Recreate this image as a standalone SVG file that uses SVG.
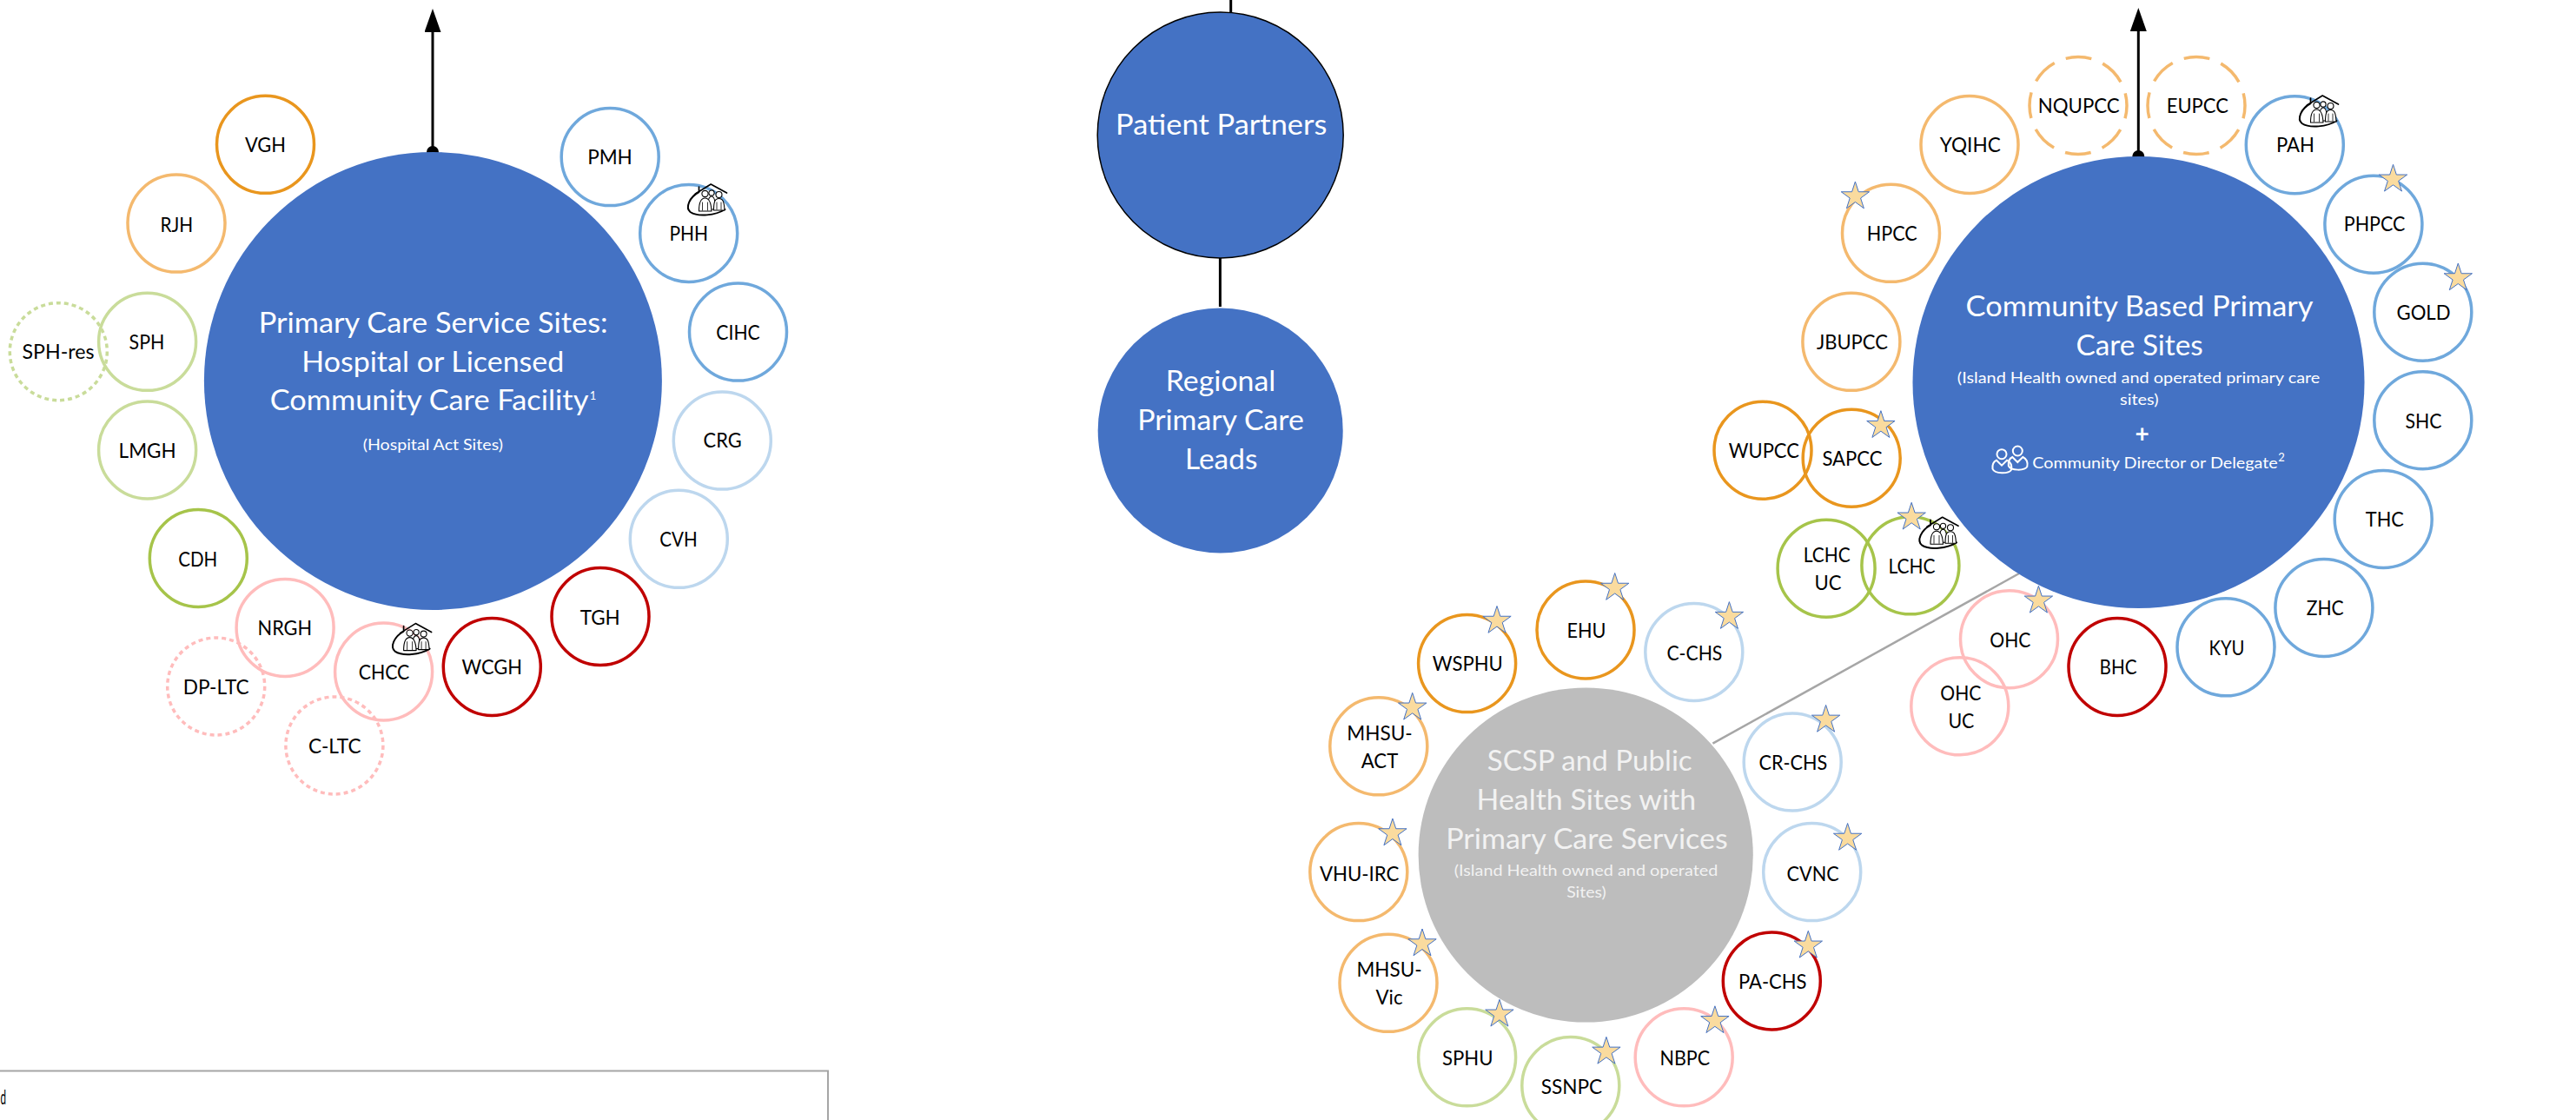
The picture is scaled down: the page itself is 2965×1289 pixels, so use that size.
<svg xmlns="http://www.w3.org/2000/svg" xmlns:xlink="http://www.w3.org/1999/xlink" width="2965" height="1289" viewBox="0 0 2965 1289">
<style>
text{font-family:"Lato","Carlito","Open Sans",sans-serif}
.n{fill:none;stroke-width:3.5}
.lb{font-size:23.5px;fill:#000;text-anchor:middle}
.w{fill:#fff;text-anchor:middle}
.big{font-size:32.5px}
.sm{font-size:17px}
.do{stroke-dasharray:5 4}
.da{stroke-dasharray:30 14;stroke-dashoffset:15}
.o1{stroke:#E9961E}.o2{stroke:#F4B96E}.b1{stroke:#6FA8DC}.b2{stroke:#BDD7EE}.g1{stroke:#A6C44A}.g2{stroke:#C9DC9A}.p{stroke:#FFBCBC}.r{stroke:#C00000}
.ln{stroke:#000;stroke-width:3;fill:none}
.gt{fill:#F2F2F2;text-anchor:middle}
</style>
<defs>
<marker id="ah" markerUnits="userSpaceOnUse" markerWidth="27" markerHeight="19" refX="0" refY="9.5" orient="auto" viewBox="0 0 27 19"><path d="M0 0L27 9.5L0 19Z" fill="#000"/></marker>
<polygon id="star" fill="#FADB9E" stroke="#4472C4" stroke-width="1" points="0,-17 3.82,-5.26 16.17,-5.25 6.18,2 9.99,13.75 0,6.5 -9.99,13.75 -6.18,2 -16.17,-5.25 -3.82,-5.26"/>
<g id="fam" stroke="#000" stroke-linejoin="round" stroke-linecap="round">
<path d="M11 12L28.7 1L47 11M15 9V4" fill="none" stroke-width="1.7"/>
<path d="M15 10C4 16-1 28 5 33C14 39 34 37 45 30" fill="none" stroke-width="2"/>
<g fill="#fff" stroke-width="1.1">
<circle cx="29.5" cy="11" r="3.1"/><path d="M25 30C25 21 26 15 29.5 15C33 15 34 21 34 30Z"/>
<circle cx="38" cy="13" r="3.5"/><path d="M32 31C32 22 33 17.5 38 17.5C43 17.5 44 22 44.5 31Z"/>
<circle cx="22" cy="12" r="3.6"/><path d="M15 32C15 22 17 17 22 17C27 17 29 22 29.5 32Z"/>
<path d="M19 22V31M25 22V31M35.5 22V30M40.5 22V30" fill="none" stroke-width=".8"/>
</g>
</g>
<g id="person" fill="none" stroke="#fff" stroke-width="2">
<circle cx="0" cy="0" r="5.5"/>
<path d="M-6 7C-10 9-11 13-10.5 17C-8 23 8 23 11 18C12 13 10 9 6 7L0 13Z"/>
</g>
</defs>

<g id="legend"><rect x="-10" y="1232.5" width="963" height="100" fill="#fff" stroke="#A6A6A6" stroke-width="2"/><text x="0.5" y="1271" font-size="24" textLength="6.5" lengthAdjust="spacingAndGlyphs" fill="#000">d</text></g>

<g id="connectors">
<line class="ln" x1="498" y1="175" x2="498" y2="37" marker-end="url(#ah)"/><circle cx="498" cy="175" r="7" fill="#000"/>
<line class="ln" x1="2461.3" y1="180" x2="2461.3" y2="36" marker-end="url(#ah)"/><circle cx="2461.3" cy="180" r="7" fill="#000"/>
<line class="ln" x1="1416.7" y1="0" x2="1416.7" y2="15"/>
<line class="ln" x1="1404.4" y1="297" x2="1404.4" y2="353"/>
<line x1="1971.4" y1="855.6" x2="2324" y2="660" stroke="#A6A6A6" stroke-width="2.5"/>
</g>

<g id="hub-hospital"><circle cx="498.4" cy="438.5" r="263.5" fill="#4472C4"/>
<text class="w big" x="498.7" y="382.6" textLength="402" lengthAdjust="spacingAndGlyphs">Primary Care Service Sites:</text>
<text class="w big" x="498.3" y="427.7" textLength="302" lengthAdjust="spacingAndGlyphs">Hospital or Licensed</text>
<text class="w big" x="494" y="472.3" textLength="366.7" lengthAdjust="spacingAndGlyphs">Community Care Facility</text>
<text class="w" x="682.5" y="460" font-size="13">1</text>
<text class="w sm" x="498.3" y="517.9" textLength="161.3" lengthAdjust="spacingAndGlyphs">(Hospital Act Sites)</text></g>

<g id="hub-patient"><circle cx="1404.7" cy="155.5" r="141.5" fill="#4472C4" stroke="#000" stroke-width="1.5"/>
<text class="w big" x="1405.7" y="154.9" textLength="243.3" lengthAdjust="spacingAndGlyphs">Patient Partners</text></g>

<g id="hub-regional"><circle cx="1404.7" cy="495.5" r="141" fill="#4472C4"/>
<text class="w big" x="1405" y="450.3" textLength="126.7" lengthAdjust="spacingAndGlyphs">Regional</text>
<text class="w big" x="1405" y="494.5" textLength="191.7" lengthAdjust="spacingAndGlyphs">Primary Care</text>
<text class="w big" x="1405.7" y="539.6" textLength="83.3" lengthAdjust="spacingAndGlyphs">Leads</text></g>

<g id="hub-community"><circle cx="2461.5" cy="440" r="260" fill="#4472C4"/>
<text class="w big" x="2462.6" y="364.3" textLength="400" lengthAdjust="spacingAndGlyphs">Community Based Primary</text>
<text class="w big" x="2462.6" y="409" textLength="146.3" lengthAdjust="spacingAndGlyphs">Care Sites</text>
<text class="w sm" x="2461.6" y="441" textLength="417.5" lengthAdjust="spacingAndGlyphs">(Island Health owned and operated primary care</text>
<text class="w sm" x="2462.3" y="466" textLength="44.6" lengthAdjust="spacingAndGlyphs">sites)</text>
<text class="w" x="2465.7" y="509" font-size="28" font-weight="700">+</text>
<use xlink:href="#person" href="#person" x="2304" y="522.7"/><use xlink:href="#person" href="#person" x="2322.3" y="519"/>
<text class="w sm" x="2480.5" y="539.3" textLength="282.4" lengthAdjust="spacingAndGlyphs">Community Director or Delegate</text>
<text class="w" x="2626" y="531" font-size="13">2</text></g>

<g id="hub-scsp"><circle cx="1825.2" cy="984" r="192.6" fill="#BDBDBD"/>
<text class="gt big" x="1829.7" y="886.7" textLength="236" lengthAdjust="spacingAndGlyphs">SCSP and Public</text>
<text class="gt big" x="1825.9" y="931.8" textLength="252.6" lengthAdjust="spacingAndGlyphs">Health Sites with</text>
<text class="gt big" x="1826.5" y="977" textLength="324.5" lengthAdjust="spacingAndGlyphs">Primary Care Services</text>
<text class="gt sm" x="1825.5" y="1007.5" textLength="303.5" lengthAdjust="spacingAndGlyphs">(Island Health owned and operated</text>
<text class="gt sm" x="1825.9" y="1033" textLength="45.5" lengthAdjust="spacingAndGlyphs">Sites)</text>
</g>

<g id="VGH"><circle class="n o1" cx="305.5" cy="166.3" r="56"/><text class="lb" x="305.5" y="175" textLength="47" lengthAdjust="spacingAndGlyphs">VGH</text></g>
<g id="RJH"><circle class="n o2" cx="203" cy="257.1" r="56"/><text class="lb" x="203.4" y="266.5" textLength="37.6" lengthAdjust="spacingAndGlyphs">RJH</text></g>
<g id="SPH"><circle class="n g2" cx="169.6" cy="393.3" r="56"/><text class="lb" x="169" y="401.8" textLength="40.8" lengthAdjust="spacingAndGlyphs">SPH</text></g>
<g id="SPH-res"><circle class="n g2 do" cx="67.3" cy="404.7" r="56"/><text class="lb" x="67" y="413" textLength="83" lengthAdjust="spacingAndGlyphs">SPH-res</text></g>
<g id="LMGH"><circle class="n g2" cx="169.6" cy="517.9" r="56"/><text class="lb" x="169.6" y="526.8" textLength="66" lengthAdjust="spacingAndGlyphs">LMGH</text></g>
<g id="CDH"><circle class="n g1" cx="228.3" cy="642.5" r="56"/><text class="lb" x="227.7" y="652" textLength="45" lengthAdjust="spacingAndGlyphs">CDH</text></g>
<g id="PMH"><circle class="n b1" cx="702.2" cy="180.6" r="56"/><text class="lb" x="702" y="188.8" textLength="51.7" lengthAdjust="spacingAndGlyphs">PMH</text></g>
<g id="PHH"><circle class="n b1" cx="792.7" cy="268.5" r="56"/><text class="lb" x="792.7" y="276.8" textLength="44.6" lengthAdjust="spacingAndGlyphs">PHH</text><use xlink:href="#fam" href="#fam" x="789.5" y="211"/></g>
<g id="CIHC"><circle class="n b1" cx="849.5" cy="382.1" r="56"/><text class="lb" x="849.5" y="391" textLength="50.4" lengthAdjust="spacingAndGlyphs">CIHC</text></g>
<g id="CRG"><circle class="n b2" cx="831.3" cy="507.1" r="56"/><text class="lb" x="831.6" y="515" textLength="44" lengthAdjust="spacingAndGlyphs">CRG</text></g>
<g id="CVH"><circle class="n b2" cx="781.3" cy="620.3" r="56"/><text class="lb" x="781" y="628.6" textLength="43.4" lengthAdjust="spacingAndGlyphs">CVH</text></g>
<g id="TGH"><circle class="n r" cx="691" cy="709.5" r="56"/><text class="lb" x="690.7" y="718.6" textLength="46" lengthAdjust="spacingAndGlyphs">TGH</text></g>
<g id="WCGH"><circle class="n r" cx="566.3" cy="767.5" r="56"/><text class="lb" x="566.3" y="775.8" textLength="69.5" lengthAdjust="spacingAndGlyphs">WCGH</text></g>
<g id="CHCC"><circle class="n p" cx="441.6" cy="773" r="56"/><text class="lb" x="442" y="782" textLength="58.7" lengthAdjust="spacingAndGlyphs">CHCC</text><use xlink:href="#fam" href="#fam" x="449.6" y="716.6"/></g>
<g id="NRGH"><circle class="n p" cx="328.1" cy="722.4" r="56"/><text class="lb" x="327.8" y="731" textLength="62.5" lengthAdjust="spacingAndGlyphs">NRGH</text></g>
<g id="DP-LTC"><circle class="n p do" cx="248.7" cy="790" r="56"/><text class="lb" x="248.7" y="799" textLength="75.9" lengthAdjust="spacingAndGlyphs">DP-LTC</text></g>
<g id="C-LTC"><circle class="n p do" cx="384.9" cy="858" r="56"/><text class="lb" x="385.2" y="866.8" textLength="60.6" lengthAdjust="spacingAndGlyphs">C-LTC</text></g>

<g id="YQIHC"><circle class="n o2" cx="2267" cy="166.5" r="56"/><text class="lb" x="2267.8" y="175" textLength="70" lengthAdjust="spacingAndGlyphs">YQIHC</text></g>
<g id="NQUPCC"><circle class="n o2 da" cx="2392" cy="121.5" r="56"/><text class="lb" x="2392.7" y="130" textLength="93.9" lengthAdjust="spacingAndGlyphs">NQUPCC</text></g>
<g id="EUPCC"><circle class="n o2 da" cx="2528" cy="121.5" r="56"/><text class="lb" x="2529.3" y="130" textLength="71" lengthAdjust="spacingAndGlyphs">EUPCC</text></g>
<g id="PAH"><circle class="n b1" cx="2641.3" cy="166.7" r="56"/><text class="lb" x="2641.9" y="175" textLength="44" lengthAdjust="spacingAndGlyphs">PAH</text><use xlink:href="#fam" href="#fam" x="2644.5" y="109"/></g>
<g id="HPCC"><circle class="n o2" cx="2176.5" cy="268.3" r="56"/><text class="lb" x="2177.8" y="276.7" textLength="58" lengthAdjust="spacingAndGlyphs">HPCC</text><use xlink:href="#star" href="#star" x="2135.4" y="226"/></g>
<g id="PHPCC"><circle class="n b1" cx="2731.9" cy="258.2" r="56"/><text class="lb" x="2733" y="266" textLength="70.5" lengthAdjust="spacingAndGlyphs">PHPCC</text><use xlink:href="#star" href="#star" x="2754.5" y="206.3"/></g>
<g id="GOLD"><circle class="n b1" cx="2788.8" cy="359.2" r="56"/><text class="lb" x="2789.5" y="367.7" textLength="62" lengthAdjust="spacingAndGlyphs">GOLD</text><use xlink:href="#star" href="#star" x="2829.3" y="320"/></g>
<g id="JBUPCC"><circle class="n o2" cx="2130.9" cy="393.3" r="56"/><text class="lb" x="2131.9" y="401.7" textLength="82" lengthAdjust="spacingAndGlyphs">JBUPCC</text></g>
<g id="SHC"><circle class="n b1" cx="2788.8" cy="483.7" r="56"/><text class="lb" x="2789.5" y="493" textLength="42" lengthAdjust="spacingAndGlyphs">SHC</text></g>
<g id="WUPCC"><circle class="n o1" cx="2029" cy="518.2" r="56"/><text class="lb" x="2030.3" y="527" textLength="81" lengthAdjust="spacingAndGlyphs">WUPCC</text></g>
<g id="SAPCC"><circle class="n o1" cx="2131.2" cy="527.2" r="56"/><text class="lb" x="2131.9" y="535.7" textLength="69" lengthAdjust="spacingAndGlyphs">SAPCC</text><use xlink:href="#star" href="#star" x="2164.9" y="489.7"/></g>
<g id="LCHC-UC"><circle class="n g1" cx="2102.1" cy="654.2" r="56"/><text class="lb" x="2102.8" y="647" textLength="54" lengthAdjust="spacingAndGlyphs">LCHC</text><text class="lb" x="2104" y="678.7" textLength="31" lengthAdjust="spacingAndGlyphs">UC</text></g>
<g id="LCHC"><circle class="n g1" cx="2198.9" cy="650.8" r="56"/><text class="lb" x="2200.5" y="659.7" textLength="54" lengthAdjust="spacingAndGlyphs">LCHC</text><use xlink:href="#star" href="#star" x="2200.2" y="595.3"/><use xlink:href="#fam" href="#fam" x="2207" y="594.3"/></g>
<g id="OHC"><circle class="n p" cx="2312.5" cy="735.7" r="56"/><text class="lb" x="2313.8" y="744.7" textLength="47" lengthAdjust="spacingAndGlyphs">OHC</text><use xlink:href="#star" href="#star" x="2346.4" y="691.3"/></g>
<g id="OHC-UC"><circle class="n p" cx="2255.8" cy="812.8" r="56"/><text class="lb" x="2256.8" y="806" textLength="47" lengthAdjust="spacingAndGlyphs">OHC</text><text class="lb" x="2257.4" y="837.7" textLength="30" lengthAdjust="spacingAndGlyphs">UC</text></g>
<g id="BHC"><circle class="n r" cx="2437" cy="767.5" r="56"/><text class="lb" x="2438" y="775.7" textLength="43" lengthAdjust="spacingAndGlyphs">BHC</text></g>
<g id="KYU"><circle class="n b1" cx="2562" cy="744.8" r="56"/><text class="lb" x="2563" y="753.7" textLength="41" lengthAdjust="spacingAndGlyphs">KYU</text></g>
<g id="ZHC"><circle class="n b1" cx="2674.9" cy="699.5" r="56"/><text class="lb" x="2676.2" y="707.7" textLength="43" lengthAdjust="spacingAndGlyphs">ZHC</text></g>
<g id="THC"><circle class="n b1" cx="2743.2" cy="597.5" r="56"/><text class="lb" x="2744.8" y="605.7" textLength="44" lengthAdjust="spacingAndGlyphs">THC</text></g>

<g id="EHU"><circle class="n o1" cx="1825" cy="725" r="56"/><text class="lb" x="1825.9" y="734.4" textLength="45" lengthAdjust="spacingAndGlyphs">EHU</text><use xlink:href="#star" href="#star" x="1858.7" y="676.5"/></g>
<g id="C-CHS"><circle class="n b2" cx="1949.8" cy="750.5" r="56"/><text class="lb" x="1950.4" y="760" textLength="64" lengthAdjust="spacingAndGlyphs">C-CHS</text><use xlink:href="#star" href="#star" x="1990.4" y="709.6"/></g>
<g id="WSPHU"><circle class="n o1" cx="1688.6" cy="763.6" r="56"/><text class="lb" x="1689.3" y="772" textLength="81" lengthAdjust="spacingAndGlyphs">WSPHU</text><use xlink:href="#star" href="#star" x="1723" y="714.5"/></g>
<g id="MHSU-ACT"><circle class="n o2" cx="1586.8" cy="858.8" r="56"/><text class="lb" x="1588" y="852.3" textLength="75.4" lengthAdjust="spacingAndGlyphs">MHSU-</text><text class="lb" x="1588" y="884.2" textLength="42.4" lengthAdjust="spacingAndGlyphs">ACT</text><use xlink:href="#star" href="#star" x="1625.7" y="814.3"/></g>
<g id="VHU-IRC"><circle class="n o2" cx="1563.8" cy="1003.6" r="56"/><text class="lb" x="1564.7" y="1013.8" textLength="91.5" lengthAdjust="spacingAndGlyphs">VHU-IRC</text><use xlink:href="#star" href="#star" x="1602.9" y="959"/></g>
<g id="MHSU-Vic"><circle class="n o2" cx="1598" cy="1131.3" r="56"/><text class="lb" x="1599" y="1124.3" textLength="75" lengthAdjust="spacingAndGlyphs">MHSU-</text><text class="lb" x="1599" y="1156" textLength="31" lengthAdjust="spacingAndGlyphs">Vic</text><use xlink:href="#star" href="#star" x="1637" y="1086"/></g>
<g id="SPHU"><circle class="n g2" cx="1688.6" cy="1216.8" r="56"/><text class="lb" x="1689.3" y="1226" textLength="58.5" lengthAdjust="spacingAndGlyphs">SPHU</text><use xlink:href="#star" href="#star" x="1725.9" y="1167.3"/></g>
<g id="SSNPC"><circle class="n g2" cx="1807.8" cy="1249.6" r="56"/><text class="lb" x="1808.9" y="1258.8" textLength="70.5" lengthAdjust="spacingAndGlyphs">SSNPC</text><use xlink:href="#star" href="#star" x="1848.9" y="1210.4"/></g>
<g id="NBPC"><circle class="n p" cx="1938.2" cy="1216.8" r="56"/><text class="lb" x="1939.3" y="1226" textLength="57.6" lengthAdjust="spacingAndGlyphs">NBPC</text><use xlink:href="#star" href="#star" x="1973.9" y="1174.8"/></g>
<g id="PA-CHS"><circle class="n r" cx="2039.3" cy="1129" r="56"/><text class="lb" x="2040.2" y="1138" textLength="78.6" lengthAdjust="spacingAndGlyphs">PA-CHS</text><use xlink:href="#star" href="#star" x="2081.3" y="1088.3"/></g>
<g id="CVNC"><circle class="n b2" cx="2085.7" cy="1003.6" r="56"/><text class="lb" x="2086.6" y="1013.8" textLength="60" lengthAdjust="spacingAndGlyphs">CVNC</text><use xlink:href="#star" href="#star" x="2126.6" y="964.5"/></g>
<g id="CR-CHS"><circle class="n b2" cx="2063.2" cy="877" r="56"/><text class="lb" x="2063.8" y="886.3" textLength="78.6" lengthAdjust="spacingAndGlyphs">CR-CHS</text><use xlink:href="#star" href="#star" x="2101.6" y="828.4"/></g>
</svg>
